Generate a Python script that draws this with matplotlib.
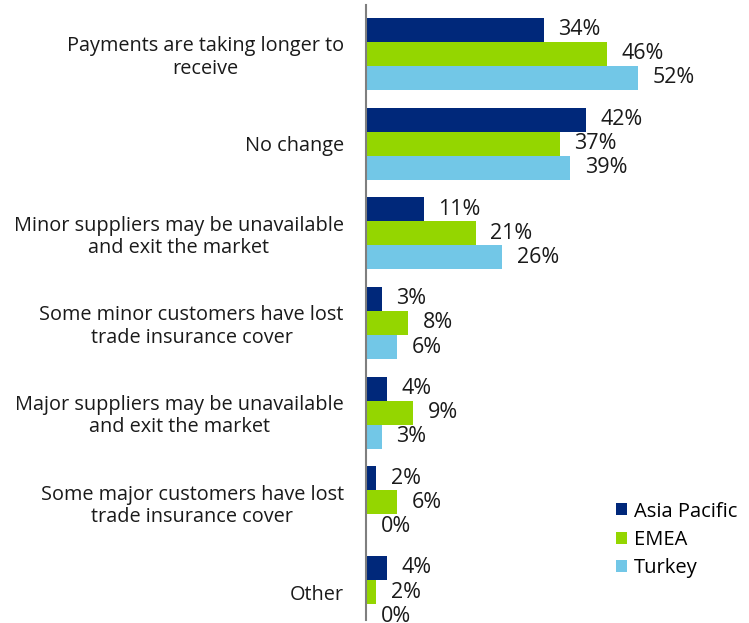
import numpy as np
import matplotlib.pyplot as plt

plt.rcParams['font.family'] = ['Open Sans', 'DejaVu Sans']

categories = [
    "Payments are taking longer to\nreceive",
    "No change",
    "Minor suppliers may be unavailable\nand exit the market",
    "Some minor customers have lost\ntrade insurance cover",
    "Major suppliers may be unavailable\nand exit the market",
    "Some major customers have lost\ntrade insurance cover",
    "Other",
]
asia_pacific = [34, 42, 11, 3, 4, 2, 4]
emea = [46, 37, 21, 8, 9, 6, 2]
turkey = [52, 39, 26, 6, 3, 0, 0]

series_names = ["Asia Pacific", "EMEA", "Turkey"]
colors = ["#00287a", "#94d600", "#72c7e7"]

W, H = 749, 623
fig = plt.figure(figsize=(W / 100, H / 100), dpi=100)
# axes placed in pixel terms: left spine at x=366, spanning y=5..620
ax = fig.add_axes([366 / W, (H - 620) / H, 383 / W, 615 / H])

bar_h = 0.268
y = np.arange(len(categories))
for k, (vals, name, c) in enumerate(zip([asia_pacific, emea, turkey], series_names, colors)):
    pos = y + (k - 1) * bar_h
    ax.barh(pos, vals, height=bar_h, color=c, label=name)
    for p, v in zip(pos, vals):
        ax.text(v + 2.8, p, f"{v}%", va='center', ha='left', fontsize=15.5, color='#1a1a1a')

ax.set_xlim(0, 383 / 5.23)
ax.set_ylim(6.312, -0.546)
ax.set_yticks(y)
ax.set_yticklabels(categories, fontsize=14.3, multialignment='center', color='#1a1a1a',
                   linespacing=1.15)
ax.tick_params(axis='y', length=0, pad=16)
ax.set_xticks([])
for s in ['top', 'right', 'bottom']:
    ax.spines[s].set_visible(False)
ax.spines['left'].set_color('#7f7f7f')
ax.spines['left'].set_linewidth(1.5)

ax.legend(loc='center left', bbox_to_anchor=(616 / W, (H - 540) / H),
          bbox_transform=fig.transFigure, frameon=False, fontsize=14.5,
          handlelength=0.55, handleheight=0.55, handletextpad=0.35, labelspacing=0.42,
          borderpad=0, borderaxespad=0)

fig.savefig("out.png", dpi=100)
